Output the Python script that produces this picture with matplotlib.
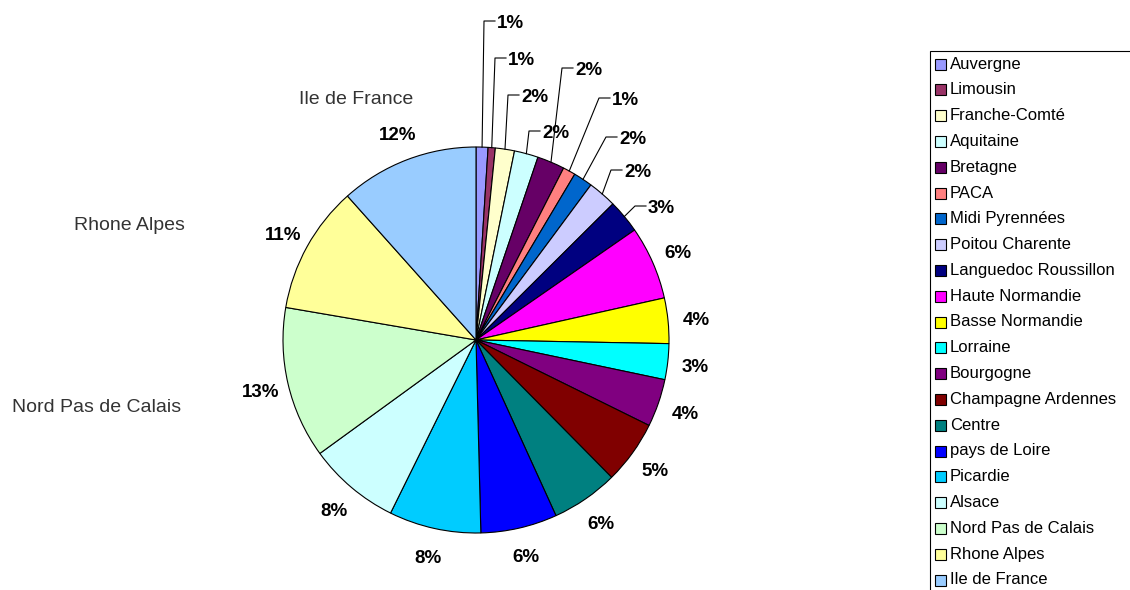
import matplotlib.pyplot as plt
from matplotlib.patches import Rectangle
import numpy as np

plt.rcParams['font.family'] = ['Liberation Sans', 'DejaVu Sans']

# regions, in slice order (clockwise from 12 o'clock)
regions = ['Auvergne', 'Limousin', 'Franche-Comté', 'Aquitaine', 'Bretagne', 'PACA',
           'Midi Pyrennées', 'Poitou Charente', 'Languedoc Roussillon', 'Haute Normandie',
           'Basse Normandie', 'Lorraine', 'Bourgogne', 'Champagne Ardennes', 'Centre',
           'pays de Loire', 'Picardie', 'Alsace', 'Nord Pas de Calais', 'Rhone Alpes',
           'Ile de France']
# share of each region (%)
shares = [1.0, 0.6, 1.6, 2.0, 2.3, 1.05, 1.6, 2.4, 2.8, 6.15, 3.8, 3.0, 4.0, 5.3, 5.6,
          6.4, 7.7, 7.7, 12.7, 10.7, 11.6]
colors = ['#9999FF', '#993366', '#FFFFCC', '#CCFFFF', '#660066', '#FF8080', '#0066CC',
          '#CCCCFF', '#000080', '#FF00FF', '#FFFF00', '#00FFFF', '#800080', '#800000',
          '#008080', '#0000FF', '#00CCFF', '#CCFFFF', '#CCFFCC', '#FFFF99', '#99CCFF']

# stray category names shown left of the pie
side_names = ['Ile de France', 'Rhone Alpes', 'Nord Pas de Calais']

# ---- layout (pixel units, y measured from the top) ----
W, H = 1130, 590
cx, cy, R = 476, 340, 193
n_callout = 9                 # the small slices get a leader line
callout_pos = [(497, 21), (508, 58), (521, 95), (542, 131), (575, 68),
               (612, 98), (619, 137), (624, 170), (648, 206)]
side_pos = [(299, 100), (74, 226), (12, 408)]

fig = plt.figure(figsize=(W / 100, H / 100), dpi=100)
ax = fig.add_axes([0, 0, 1, 1])


def py(y):
    return H - y


wedges, _ = ax.pie(shares, colors=colors, startangle=90, counterclock=False,
                   center=(cx, py(cy)), radius=R,
                   wedgeprops=dict(edgecolor='black', linewidth=0.8))

total = sum(shares)
pct_fs = 13.5
cap = 0.716 * pct_fs * 100 / 72  # cap height in px, to centre the digits

for i, w in enumerate(wedges):
    lab = f"{round(shares[i] / total * 100):.0f}%"
    mid = np.deg2rad((w.theta1 + w.theta2) / 2)
    if i < n_callout:
        rx = cx + R * np.cos(mid)
        ry = py(cy) + R * np.sin(mid)
        tx, ty = callout_pos[i]
        ax.plot([rx, tx - 13, tx - 2], [ry, py(ty), py(ty)], color='black', lw=0.8)
        ax.text(tx, py(ty) - cap / 2, lab, ha='left', va='baseline',
                fontsize=pct_fs, fontweight='bold')
    else:
        tx = cx + 221 * np.cos(mid)
        ty = py(cy) + 221 * np.sin(mid)
        ax.text(tx, ty - cap / 2, lab, ha='center', va='baseline',
                fontsize=pct_fs, fontweight='bold')

for name, (x, y) in zip(side_names, side_pos):
    ax.text(x, py(y), name, ha='left', va='center', fontsize=14, color='#333333')

# legend box (runs off the right and bottom of the picture)
ax.add_patch(Rectangle((929.5, py(50.5) - 600), 400, 600, fill=False,
                       edgecolor='black', lw=0.8))
for i, name in enumerate(regions):
    y = 64 + 25.8 * i
    ax.add_patch(Rectangle((935, py(y) - 5.5), 11, 11, facecolor=colors[i],
                           edgecolor='black', lw=0.8))
    ax.text(950, py(y), name, ha='left', va='center', fontsize=12, color='black')

ax.set_xlim(0, W)
ax.set_ylim(0, H)
ax.set_aspect('equal')
ax.axis('off')

fig.savefig('out.png', dpi=100)
